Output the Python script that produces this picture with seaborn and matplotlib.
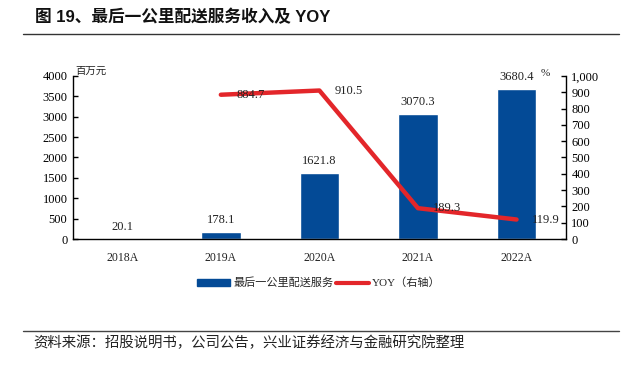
import numpy as np
import matplotlib
matplotlib.use("Agg")
import matplotlib.pyplot as plt
import seaborn as sns
from matplotlib.lines import Line2D
from matplotlib.patches import Patch
from matplotlib.ticker import FuncFormatter

years = ["2018A", "2019A", "2020A", "2021A", "2022A"]
revenue = [20.1, 178.1, 1621.8, 3070.3, 3680.4]
yoy_years = ["2019A", "2020A", "2021A", "2022A"]
yoy = [884.7, 910.5, 189.3, 119.9]

left_ticks = [0, 500, 1000, 1500, 2000, 2500, 3000, 3500, 4000]
right_ticks = [0, 100, 200, 300, 400, 500, 600, 700, 800, 900, 1000]

BLUE = "#034A96"
RED = "#E3262A"

sns.set_theme(style="white")
plt.rcParams["font.family"] = ["Liberation Serif", "Noto Sans CJK SC"]
plt.rcParams["axes.unicode_minus"] = False

fig = plt.figure(figsize=(6.31, 3.65), dpi=100)
ax = fig.add_axes([0.1157, 0.345, 0.781, 0.447])

sns.barplot(x=years, y=revenue, color=BLUE, width=0.4, saturation=1,
            ax=ax, zorder=2)
ax.set_xlim(-0.5, 4.5)
ax.set_ylim(0, 4000)
ax.set_yticks(left_ticks)
ax.set_xlabel("")
ax.set_ylabel("")

for i, v in enumerate(revenue):
    ax.annotate(f"{v:.1f}", (i, v), xytext=(0, 4), textcoords="offset points",
                ha="center", va="bottom", fontsize=9, color="#222222")

ax2 = ax.twinx()
x_pos = [years.index(y) for y in yoy_years]
sns.lineplot(x=x_pos, y=yoy, color=RED, linewidth=3.2, ax=ax2, zorder=3)
ax2.set_ylim(0, 1000)
ax2.set_yticks(right_ticks)
ax2.yaxis.set_major_formatter(FuncFormatter(lambda v, p: f"{v:,.0f}"))
ax2.set_xlim(-0.5, 4.5)
ax2.set_ylabel("")

for xp, v in zip(x_pos, yoy):
    ax2.annotate(f"{v:.1f}", (xp, v), xytext=(11, 0), textcoords="offset points",
                 ha="left", va="center", fontsize=9, color="#222222")

for a in (ax, ax2):
    for s in a.spines.values():
        s.set_color("black")
        s.set_linewidth(1.0)
    a.spines["top"].set_visible(False)
    a.tick_params(axis="y", direction="in", length=3.5, width=1.0,
                  labelsize=9, colors="black", pad=4)
    a.tick_params(axis="x", length=0, labelsize=8.5, pad=9)
ax.spines["right"].set_visible(False)
ax2.spines["left"].set_visible(False)
ax2.spines["bottom"].set_visible(False)
ax.tick_params(axis="y", left=True, right=False)
ax2.tick_params(axis="y", right=True, left=False)
for lbl in ax.get_xticklabels():
    lbl.set_color("#222222")

fig.text(0.119, 0.805, "百万元", fontsize=7.5, style="italic",
         ha="left", va="center", color="#222222")
fig.text(0.856, 0.800, "%", fontsize=8, ha="left", va="center",
         color="#222222")

handles = [Patch(facecolor=BLUE, edgecolor=BLUE),
           Line2D([0], [0], color=RED, linewidth=3)]
fig.legend(handles, ["最后一公里配送服务", "YOY（右轴）"], loc="center",
           bbox_to_anchor=(0.505, 0.225), ncol=2, frameon=False, fontsize=8,
           handlelength=3.0, handleheight=0.6, handletextpad=0.3,
           columnspacing=0.2)

fig.text(0.055, 0.953, "图 19、最后一公里配送服务收入及 YOY", fontsize=12,
         fontweight="bold", family=["Liberation Sans", "Noto Sans CJK SC"],
         ha="left", va="center", color="#111111")
fig.add_artist(Line2D([0.037, 0.981], [0.907, 0.907], color="#333333",
                      linewidth=1.0, transform=fig.transFigure))
fig.add_artist(Line2D([0.037, 0.981], [0.093, 0.093], color="#444444",
                      linewidth=1.0, transform=fig.transFigure))
fig.text(0.052, 0.060, "资料来源：招股说明书，公司公告，兴业证券经济与金融研究院整理",
         fontsize=10.4, family=["Noto Sans CJK SC"], ha="left", va="center",
         color="#222222")

fig.savefig("out.png", dpi=100)
